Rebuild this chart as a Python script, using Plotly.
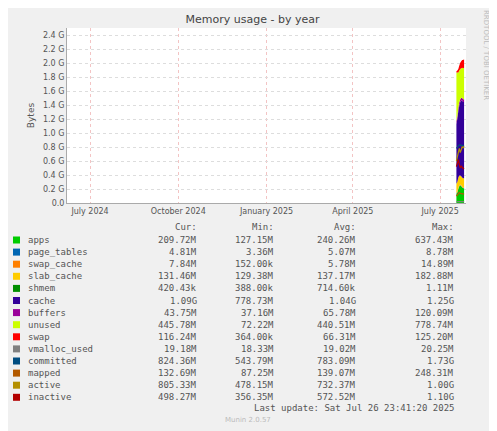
import plotly.graph_objects as go

dates = ["2025-07-18","2025-07-19","2025-07-20","2025-07-21","2025-07-22","2025-07-23","2025-07-24","2025-07-25","2025-07-26"]
G = 1e9
apps        = [0.13,0.15,0.20,0.24,0.25,0.24,0.22,0.21,0.21]
page_tables = [0.005,0.005,0.005,0.005,0.005,0.005,0.005,0.005,0.005]
swap_cache  = [0.008,0.008,0.008,0.008,0.008,0.008,0.008,0.008,0.008]
slab_cache  = [0.13,0.14,0.15,0.14,0.13,0.13,0.13,0.13,0.13]
shmem       = [0.0004]*9
cache       = [0.85,0.90,0.95,1.00,1.05,1.08,1.10,1.09,1.09]
buffers     = [0.04,0.04,0.05,0.05,0.04,0.04,0.04,0.04,0.04]
unused      = [0.70,0.62,0.50,0.45,0.43,0.42,0.43,0.44,0.45]
swap        = [0.02,0.03,0.05,0.07,0.09,0.10,0.11,0.12,0.12]
vmalloc_used= [0.019]*9
committed   = [0.78,0.80,0.82,0.83,0.82,0.83,0.82,0.82,0.82]
mapped      = [0.10,0.12,0.14,0.15,0.14,0.13,0.13,0.13,0.13]
active      = [0.60,0.68,0.74,0.78,0.72,0.76,0.80,0.79,0.81]
inactive    = [0.52,0.58,0.62,0.55,0.50,0.53,0.50,0.49,0.50]

names = ["apps","page_tables","swap_cache","slab_cache","shmem","cache","buffers","unused","swap",
         "vmalloc_used","committed","mapped","active","inactive"]
colors = ["#00cc00","#0066b3","#ff8000","#ffcc00","#008f00","#330099","#990099","#ccff00","#ff0000",
          "#808080","#004d80","#b35a00","#b38f00","#b30000"]
cur = ["209.72M","4.81M","7.84M","131.46M","420.43k","1.09G","43.75M","445.78M","116.24M","19.18M","824.36M","132.69M","805.33M","498.27M"]
mn  = ["127.15M","3.36M","152.00k","129.38M","388.00k","778.73M","37.16M","72.22M","364.00k","18.33M","543.79M","87.25M","478.15M","356.35M"]
avg = ["240.26M","5.07M","5.78M","137.17M","714.60k","1.04G","65.78M","440.51M","66.31M","19.02M","783.09M","139.07M","732.37M","572.52M"]
mx  = ["637.43M","8.78M","14.89M","182.88M","1.11M","1.25G","120.09M","778.74M","125.20M","20.25M","1.73G","248.31M","1.00G","1.10G"]

stacked = [apps,page_tables,swap_cache,slab_cache,shmem,cache,buffers,unused,swap]
lines = [vmalloc_used,committed,mapped,active,inactive]

fig = go.Figure()
for i, s in enumerate(stacked):
    fig.add_trace(go.Scatter(x=dates, y=[v*G for v in s], stackgroup="a", mode="none",
                             fillcolor=colors[i], name=names[i]))
for j, s in enumerate(lines):
    fig.add_trace(go.Scatter(x=dates, y=[v*G for v in s], mode="lines",
                             line=dict(color=colors[9+j], width=1.2), name=names[9+j]))

O = 8  # page body offset
W, H = 497-O, 431-O
L, T = 67-O, 28-O
R = W-(466-O)
B = H-(203-O)
PW, PH = W-L-R, H-T-B
def px(x): return (x-O-L)/PW
def py(y): return (H-B-(y-O))/PH

ytv = [i*0.2e9 for i in range(13)]
ytt = ["0.0"] + [f"{i*0.2:.1f} G" for i in range(1,13)]
fig.update_layout(
    width=W, height=H, showlegend=False,
    paper_bgcolor="#f0f0f0", plot_bgcolor="#ffffff",
    margin=dict(l=L, r=R, t=T, b=B),
    font=dict(family="DejaVu Sans", size=9, color="#555"),
    title=dict(text="Memory usage - by year", x=0.5, y=1-(19-O)/H, xanchor="center", yanchor="middle",
               font=dict(size=11, color="#444")),
    xaxis=dict(range=["2024-06-07","2025-07-28"], tickvals=["2024-07-01","2024-10-01","2025-01-01","2025-04-01","2025-07-01"],
               ticktext=["July 2024","October 2024","January 2025","April 2025","July 2025"],
               showgrid=True, gridcolor="#f3c4c4", griddash="dot", gridwidth=1,
               showline=True, linecolor="#aaa", ticks="", tickfont=dict(size=8, color="#555")),
    yaxis=dict(range=[0, 2.5e9], tickvals=ytv, ticktext=ytt, showgrid=True, gridcolor="#dddddd",
               griddash="dot", showline=True, linecolor="#aaa", zeroline=False, ticks="",
               tickfont=dict(size=8, color="#555"),
               title=dict(text="Bytes", font=dict(size=9, color="#555"), standoff=6)),
)

ann = []
y0 = 227
ann += [dict(x=199, y=y0, text="Cur:"), dict(x=276, y=y0, text="Min:"),
        dict(x=358, y=y0, text="Avg:"), dict(x=456, y=y0, text="Max:")]
shapes = []
for i, n in enumerate(names):
    yy = 240 + i*12.1
    shapes.append(dict(type="rect", xref="paper", yref="paper",
                       x0=px(13), x1=px(20), y0=py(yy+3.5), y1=py(yy-3.5),
                       fillcolor=colors[i], line=dict(width=0)))
    ann.append(dict(x=26, y=yy, text=n, xanchor="left"))
    for xx, vals in ((199, cur), (276, mn), (358, avg), (456, mx)):
        ann.append(dict(x=xx, y=yy, text=vals[i]))
annotations = []
for a in ann:
    annotations.append(dict(xref="paper", yref="paper", x=px(a["x"]), y=py(a["y"]),
                            text=a["text"], showarrow=False, xanchor=a.get("xanchor", "right"),
                            yanchor="middle", font=dict(family="DejaVu Sans Mono", size=9, color="#555")))
annotations.append(dict(xref="paper", yref="paper", x=px(456), y=py(408), text="Last update: Sat Jul 26 23:41:20 2025",
                        showarrow=False, xanchor="right", yanchor="middle",
                        font=dict(family="DejaVu Sans Mono", size=9, color="#555")))
annotations.append(dict(xref="paper", yref="paper", x=px(248), y=py(420), text="Munin 2.0.57",
                        showarrow=False, xanchor="center", yanchor="middle", font=dict(size=7, color="#bbb")))
annotations.append(dict(xref="paper", yref="paper", x=px(486), y=py(55), text="RRDTOOL / TOBI OETIKER",
                        showarrow=False, textangle=90, xanchor="center", yanchor="middle", font=dict(size=7, color="#bbb")))
fig.update_layout(annotations=annotations, shapes=shapes)
fig.write_html("out.html")
